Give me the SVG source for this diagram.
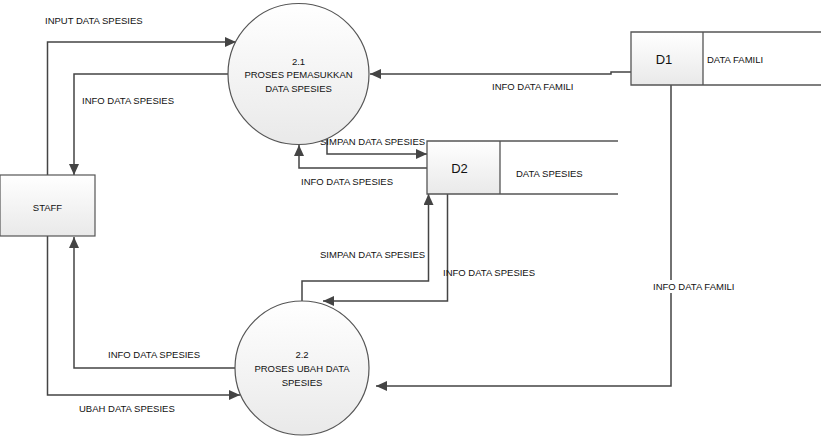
<svg xmlns="http://www.w3.org/2000/svg" width="822" height="438" viewBox="0 0 822 438">
<style>
text{font-family:"Liberation Sans",Arial,sans-serif;font-size:9.5px;fill:#111}
.big{font-size:13px}
.mid{text-anchor:middle}
.shape{fill:url(#g);stroke:#555;stroke-width:1.2}
.edge{fill:none;stroke:#444;stroke-width:1.5;marker-end:url(#arr)}
.ln{fill:none;stroke:#555;stroke-width:1.3}
</style>
<defs>
<linearGradient id="g" x1="0" y1="0" x2="0" y2="1">
<stop offset="0" stop-color="#ffffff"/>
<stop offset="1" stop-color="#e9e9e9"/>
</linearGradient>
<marker id="arr" markerUnits="userSpaceOnUse" markerWidth="12" markerHeight="10" refX="11" refY="5" orient="auto">
<path d="M0,0 L11,5 L0,10 z" fill="#444"/>
</marker>
</defs>
<rect width="822" height="438" fill="#fff"/>

<g id="connectors">
<path class="edge" d="M47.5,175 V42 H236"/>
<path class="edge" d="M228,74 H74 V175"/>
<path class="edge" d="M631,72 H611 V74 H370"/>
<path class="edge" d="M327,139 V154 H427"/>
<path class="edge" d="M427,168 H299 V145"/>
<path class="edge" d="M302,301 V281 H428.5 V194"/>
<path class="edge" d="M447.5,194 V301 H323"/>
<path class="edge" d="M671,85 V386 H376"/>
<path class="edge" d="M235,368 H74 V237"/>
<path class="edge" d="M47.5,236 V395 H240"/>
</g>

<g id="labels">
<text x="45" y="24">INPUT DATA SPESIES</text>
<text x="82" y="104">INFO DATA SPESIES</text>
<text x="492" y="89.5">INFO DATA FAMILI</text>
<text x="320" y="144.5">SIMPAN DATA SPESIES</text>
<text x="301" y="184.5">INFO DATA SPESIES</text>
<text x="320" y="257.5">SIMPAN DATA SPESIES</text>
<text x="443" y="276">INFO DATA SPESIES</text>
<rect x="651" y="280" width="93" height="13" fill="#fff"/>
<text x="653" y="289.5">INFO DATA FAMILI</text>
<text x="108" y="357.5">INFO DATA SPESIES</text>
<text x="79" y="411.5">UBAH DATA SPESIES</text>
</g>

<g id="staff">
<rect class="shape" x="0" y="175" width="95" height="61"/>
<text class="mid" x="47.5" y="210.5">STAFF</text>
</g>

<g id="p21">
<circle class="shape" cx="298.5" cy="74" r="70.5"/>
<text class="mid" x="298.5" y="65">2.1</text>
<text class="mid" x="298.5" y="78">PROSES PEMASUKKAN</text>
<text class="mid" x="298.5" y="92">DATA SPESIES</text>
</g>

<g id="p22">
<circle class="shape" cx="302" cy="368" r="67"/>
<text class="mid" x="302" y="357.5">2.2</text>
<text class="mid" x="302" y="371.5">PROSES UBAH DATA</text>
<text class="mid" x="302" y="385.5">SPESIES</text>
</g>

<g id="d1">
<rect x="631" y="32" width="72" height="53" fill="url(#g)"/>
<path class="ln" d="M821,32 H631 V85 H821 M703,32 V85"/>
<text class="mid big" x="664" y="64">D1</text>
<text x="707" y="62.5">DATA FAMILI</text>
</g>

<g id="d2">
<rect x="427" y="141" width="73" height="53" fill="url(#g)"/>
<path class="ln" d="M618,141 H427 V194 H618 M500,141 V194"/>
<text class="mid big" x="459.5" y="172.5">D2</text>
<text x="516" y="176.5">DATA SPESIES</text>
</g>
</svg>
